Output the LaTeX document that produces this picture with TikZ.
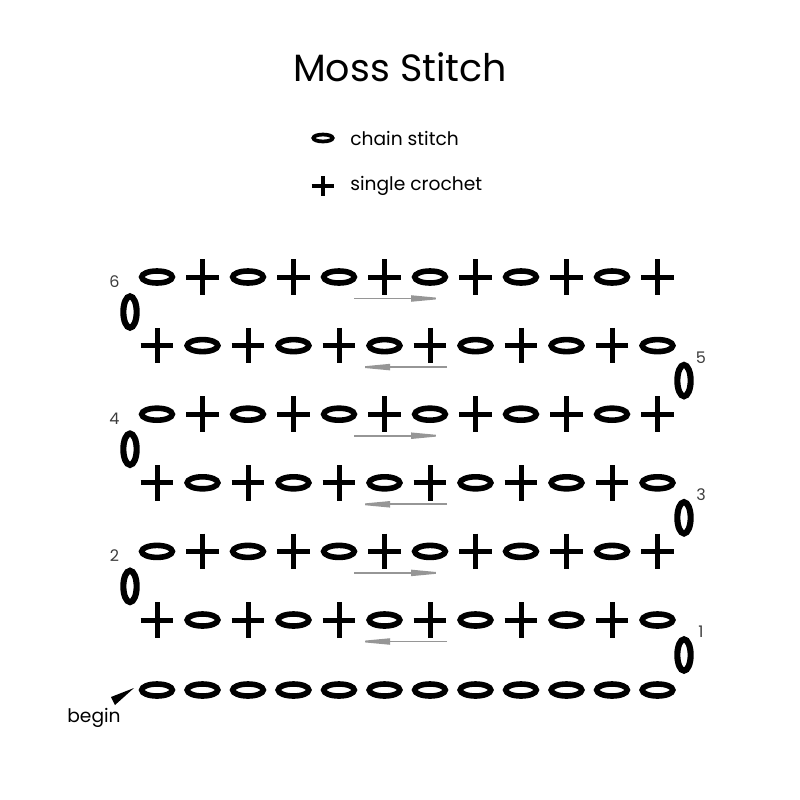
\documentclass[tikz,border=0pt]{standalone}
\usepackage{fontspec}
\setmainfont{Poppins}
\usetikzlibrary{shapes.geometric,arrows.meta}
\definecolor{arrowgray}{RGB}{150,150,150}
\definecolor{numgray}{RGB}{60,60,60}
\begin{document}
\begin{tikzpicture}[x=0.75pt,y=-0.75pt,
  chainst/.style={ellipse,draw=black,line width=4.2pt,minimum width=23pt,minimum height=9pt,inner sep=0pt},
  turnst/.style={ellipse,draw=black,line width=4.6pt,minimum width=10pt,minimum height=23.5pt,inner sep=0pt},
  scbox/.style={rectangle,minimum width=24pt,minimum height=26.25pt,inner sep=0pt},
  scline/.style={line width=3.75pt,black},
  legchain/.style={ellipse,draw=black,line width=2.8pt,minimum width=14.5pt,minimum height=5.2pt,inner sep=0pt},
  legsc/.style={rectangle,minimum width=16.5pt,minimum height=14pt,inner sep=0pt},
  leglabel/.style={anchor=west,font=\fontsize{14}{16}\selectfont,inner sep=0pt},
  rownum/.style={font=\fontsize{12}{14}\selectfont,text=numgray,inner sep=0pt},
  dirarrow/.style={draw=arrowgray,line width=1.4pt,-{Triangle[length=27pt,width=4.5pt]}}]
\path[use as bounding box] (0,0) rectangle (800,800);

% title and legend
\node[font=\fontsize{28.5}{34}\selectfont,inner sep=0pt] (title) at (400,67) {Moss Stitch};
\node[legchain] (legch) at (323,138) {};
\node[leglabel] (legchtext) at (350,138) {chain stitch};
\node[legsc] (legsc) at (323,186) {};
\draw[line width=3pt] (legsc.west) -- (legsc.east) (legsc.north) -- (legsc.south);
\node[leglabel] (legsctext) at (350,186) {single crochet};

% foundation chain
\foreach \i in {0,...,11} {
  \pgfmathsetmacro\xx{157+45.5*\i}
  \node[chainst] (c\i) at (\xx,690) {};
}
% begin
\node[font=\fontsize{14}{16}\selectfont,inner sep=0pt] (begin) at (94,718) {begin};
\coordinate (bA) at (111,697);
\coordinate (bB) at (115,705);
\coordinate (bC) at (134,688);
\fill[black] (bA) -- (bB) -- (bC) -- cycle;

% rows
\foreach \r in {1,...,6} {
  \pgfmathsetmacro\yy{277+(6-\r)*68.6}
  \foreach \i in {0,...,11} {
    \pgfmathsetmacro\xx{157+45.5*\i}
    \pgfmathtruncatemacro\t{mod(\r+\i,2)}
    \ifnum\t=0
      \node[chainst] (r\r s\i) at (\xx,\yy) {};
    \else
      \node[scbox] (r\r s\i) at (\xx,\yy) {};
      \draw[scline] (r\r s\i.west) -- (r\r s\i.east) (r\r s\i.north) -- (r\r s\i.south);
    \fi
  }
  \pgfmathsetmacro\ay{\yy+21.5}
  \pgfmathtruncatemacro\odd{mod(\r,2)}
  \coordinate (aL\r) at (354,\ay);
  \coordinate (aR\r) at (447,\ay);
  \ifnum\odd=1
    \draw[dirarrow] (aR\r) -- (aL\r);
  \else
    \draw[dirarrow] (aL\r) -- (aR\r);
  \fi
}

% turning chains and row numbers
\foreach \r in {2,4,6} {
  \pgfmathsetmacro\yy{277+(6-\r)*68.6}
  \pgfmathsetmacro\ty{\yy+35}
  \pgfmathsetmacro\ny{\yy+4.5}
  \node[turnst] (t\r) at (130,\ty) {};
  \node[rownum] (n\r) at (114.5,\ny) {\r};
}
\foreach \r in {1,3,5} {
  \pgfmathsetmacro\yy{277+(6-\r)*68.6}
  \pgfmathsetmacro\ty{\yy+35}
  \pgfmathsetmacro\ny{\yy+12}
  \node[turnst] (t\r) at (684,\ty) {};
  \node[rownum] (n\r) at (701,\ny) {\r};
}
\end{tikzpicture}
\end{document}
